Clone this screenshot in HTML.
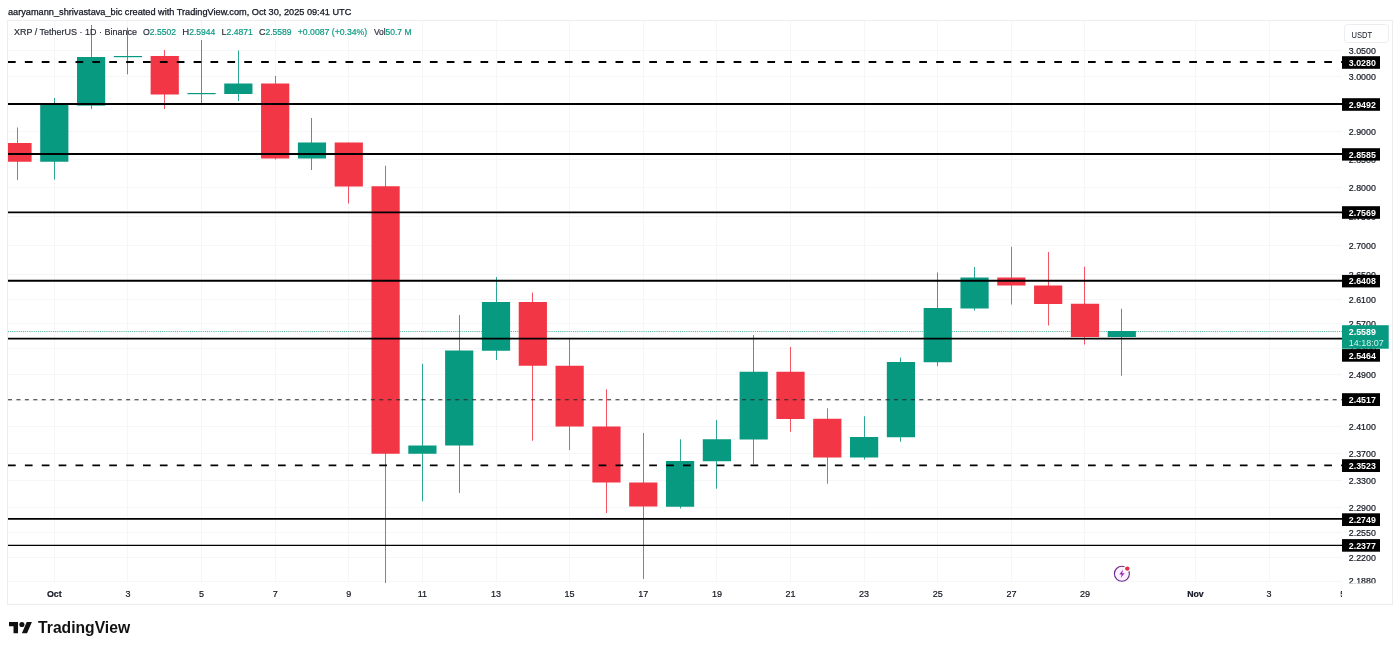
<!DOCTYPE html>
<html><head><meta charset="utf-8"><title>XRP / TetherUS</title>
<style>html,body{margin:0;padding:0;background:#fff}body{width:1400px;height:651px;overflow:hidden}svg{display:block}text{font-family:"Liberation Sans",Arial,sans-serif}</style></head><body>
<svg width="1400" height="651" viewBox="0 0 1400 651">
<rect width="1400" height="651" fill="#fff"/>
<defs><clipPath id="pane"><rect x="8" y="20" width="1334" height="563"/></clipPath><clipPath id="ps"><rect x="1342" y="20" width="50" height="563.3"/></clipPath><clipPath id="ta"><rect x="8" y="582" width="1334" height="22"/></clipPath></defs>
<g stroke="#f5f6f8" stroke-width="1" shape-rendering="crispEdges">
<line x1="54.5" y1="20" x2="54.5" y2="582"/>
<line x1="127.5" y1="20" x2="127.5" y2="582"/>
<line x1="201.5" y1="20" x2="201.5" y2="582"/>
<line x1="275.5" y1="20" x2="275.5" y2="582"/>
<line x1="348.5" y1="20" x2="348.5" y2="582"/>
<line x1="422.5" y1="20" x2="422.5" y2="582"/>
<line x1="496.5" y1="20" x2="496.5" y2="582"/>
<line x1="569.5" y1="20" x2="569.5" y2="582"/>
<line x1="643.5" y1="20" x2="643.5" y2="582"/>
<line x1="716.5" y1="20" x2="716.5" y2="582"/>
<line x1="790.5" y1="20" x2="790.5" y2="582"/>
<line x1="864.5" y1="20" x2="864.5" y2="582"/>
<line x1="937.5" y1="20" x2="937.5" y2="582"/>
<line x1="1011.5" y1="20" x2="1011.5" y2="582"/>
<line x1="1084.5" y1="20" x2="1084.5" y2="582"/>
<line x1="1195.5" y1="20" x2="1195.5" y2="582"/>
<line x1="1269.5" y1="20" x2="1269.5" y2="582"/>
<line x1="8" y1="50.5" x2="1342" y2="50.5"/>
<line x1="8" y1="76.5" x2="1342" y2="76.5"/>
<line x1="8" y1="104.5" x2="1342" y2="104.5"/>
<line x1="8" y1="131.5" x2="1342" y2="131.5"/>
<line x1="8" y1="159.5" x2="1342" y2="159.5"/>
<line x1="8" y1="187.5" x2="1342" y2="187.5"/>
<line x1="8" y1="216.5" x2="1342" y2="216.5"/>
<line x1="8" y1="245.5" x2="1342" y2="245.5"/>
<line x1="8" y1="274.5" x2="1342" y2="274.5"/>
<line x1="8" y1="299.5" x2="1342" y2="299.5"/>
<line x1="8" y1="323.5" x2="1342" y2="323.5"/>
<line x1="8" y1="348.5" x2="1342" y2="348.5"/>
<line x1="8" y1="374.5" x2="1342" y2="374.5"/>
<line x1="8" y1="400.5" x2="1342" y2="400.5"/>
<line x1="8" y1="426.5" x2="1342" y2="426.5"/>
<line x1="8" y1="453.5" x2="1342" y2="453.5"/>
<line x1="8" y1="480.5" x2="1342" y2="480.5"/>
<line x1="8" y1="507.5" x2="1342" y2="507.5"/>
<line x1="8" y1="532.5" x2="1342" y2="532.5"/>
<line x1="8" y1="557.5" x2="1342" y2="557.5"/>
<line x1="8" y1="581.5" x2="1342" y2="581.5"/>
</g>
<line x1="8" y1="331.5" x2="1342" y2="331.5" stroke="#089981" stroke-width="1" stroke-dasharray="1.07 1.07" opacity="0.7"/>
<g clip-path="url(#pane)">
<rect x="17" y="127.5" width="1" height="52.50" fill="#F23645" fill-opacity="0.85"/>
<rect x="3.39" y="143" width="28.2" height="18.75" fill="#F23645"/>
<rect x="54" y="98" width="1" height="81.50" fill="#089981" fill-opacity="0.85"/>
<rect x="40.20" y="103.5" width="28.2" height="58.25" fill="#089981"/>
<rect x="91" y="25" width="1" height="84.00" fill="#089981" fill-opacity="0.85"/>
<rect x="77.01" y="57" width="28.2" height="48.60" fill="#089981"/>
<rect x="127" y="27.7" width="1" height="46.60" fill="#089981" fill-opacity="0.85"/>
<rect x="113.82" y="56" width="28.2" height="1.20" fill="#089981"/>
<rect x="164" y="50" width="1" height="59.00" fill="#F23645" fill-opacity="0.85"/>
<rect x="150.63" y="56" width="28.2" height="38.50" fill="#F23645"/>
<rect x="201" y="40" width="1" height="64.00" fill="#089981" fill-opacity="0.85"/>
<rect x="187.44" y="93" width="28.2" height="1.20" fill="#089981"/>
<rect x="238" y="50.5" width="1" height="50.50" fill="#089981" fill-opacity="0.85"/>
<rect x="224.25" y="83.5" width="28.2" height="10.50" fill="#089981"/>
<rect x="275" y="76" width="1" height="83.50" fill="#F23645" fill-opacity="0.85"/>
<rect x="261.06" y="83.5" width="28.2" height="75.00" fill="#F23645"/>
<rect x="311" y="118" width="1" height="52.00" fill="#089981" fill-opacity="0.85"/>
<rect x="297.87" y="142.5" width="28.2" height="16.00" fill="#089981"/>
<rect x="348" y="142.5" width="1" height="61.00" fill="#F23645" fill-opacity="0.85"/>
<rect x="334.68" y="142.5" width="28.2" height="44.00" fill="#F23645"/>
<rect x="385" y="165.75" width="1" height="417.25" fill="#F23645" fill-opacity="0.85"/>
<rect x="371.49" y="186.25" width="28.2" height="267.50" fill="#F23645"/>
<rect x="422" y="363.75" width="1" height="137.50" fill="#089981" fill-opacity="0.85"/>
<rect x="408.30" y="445.5" width="28.2" height="8.25" fill="#089981"/>
<rect x="459" y="315" width="1" height="178.00" fill="#089981" fill-opacity="0.85"/>
<rect x="445.11" y="350.5" width="28.2" height="95.00" fill="#089981"/>
<rect x="496" y="277" width="1" height="83.00" fill="#089981" fill-opacity="0.85"/>
<rect x="481.92" y="302" width="28.2" height="48.75" fill="#089981"/>
<rect x="532" y="292.5" width="1" height="148.25" fill="#F23645" fill-opacity="0.85"/>
<rect x="518.73" y="302" width="28.2" height="63.75" fill="#F23645"/>
<rect x="569" y="338" width="1" height="112.00" fill="#F23645" fill-opacity="0.85"/>
<rect x="555.54" y="365.75" width="28.2" height="60.75" fill="#F23645"/>
<rect x="606" y="389.25" width="1" height="123.75" fill="#F23645" fill-opacity="0.85"/>
<rect x="592.35" y="426.5" width="28.2" height="56.00" fill="#F23645"/>
<rect x="643" y="433" width="1" height="146.00" fill="#F23645" fill-opacity="0.85"/>
<rect x="629.16" y="482.5" width="28.2" height="24.00" fill="#F23645"/>
<rect x="680" y="439.25" width="1" height="69.25" fill="#089981" fill-opacity="0.85"/>
<rect x="665.97" y="461" width="28.2" height="45.75" fill="#089981"/>
<rect x="716" y="420" width="1" height="68.75" fill="#089981" fill-opacity="0.85"/>
<rect x="702.78" y="439.25" width="28.2" height="22.00" fill="#089981"/>
<rect x="753" y="335" width="1" height="129.25" fill="#089981" fill-opacity="0.85"/>
<rect x="739.59" y="371.75" width="28.2" height="67.75" fill="#089981"/>
<rect x="790" y="347" width="1" height="84.75" fill="#F23645" fill-opacity="0.85"/>
<rect x="776.40" y="371.75" width="28.2" height="47.25" fill="#F23645"/>
<rect x="827" y="408.25" width="1" height="75.50" fill="#F23645" fill-opacity="0.85"/>
<rect x="813.21" y="418.75" width="28.2" height="38.75" fill="#F23645"/>
<rect x="864" y="416.25" width="1" height="43.25" fill="#089981" fill-opacity="0.85"/>
<rect x="850.02" y="437" width="28.2" height="20.50" fill="#089981"/>
<rect x="900" y="357.5" width="1" height="84.25" fill="#089981" fill-opacity="0.85"/>
<rect x="886.83" y="362" width="28.2" height="75.25" fill="#089981"/>
<rect x="937" y="272.5" width="1" height="93.75" fill="#089981" fill-opacity="0.85"/>
<rect x="923.64" y="308" width="28.2" height="54.25" fill="#089981"/>
<rect x="974" y="267" width="1" height="43.50" fill="#089981" fill-opacity="0.85"/>
<rect x="960.45" y="277.5" width="28.2" height="31.00" fill="#089981"/>
<rect x="1011" y="246.75" width="1" height="57.75" fill="#F23645" fill-opacity="0.85"/>
<rect x="997.26" y="277.5" width="28.2" height="8.00" fill="#F23645"/>
<rect x="1048" y="252" width="1" height="73.50" fill="#F23645" fill-opacity="0.85"/>
<rect x="1034.07" y="285.5" width="28.2" height="18.50" fill="#F23645"/>
<rect x="1084" y="266.75" width="1" height="77.75" fill="#F23645" fill-opacity="0.85"/>
<rect x="1070.88" y="303.75" width="28.2" height="33.25" fill="#F23645"/>
<rect x="1121" y="308.75" width="1" height="67.00" fill="#089981" fill-opacity="0.85"/>
<rect x="1107.69" y="331" width="28.2" height="6.00" fill="#089981"/>
</g>
<line x1="8" y1="62" x2="1342" y2="62" stroke="#000" stroke-width="1.9" stroke-dasharray="7.7 9.175" stroke-dashoffset="0"/>
<line x1="8" y1="104" x2="1342" y2="104" stroke="#000" stroke-width="1.9"/>
<line x1="8" y1="154" x2="1342" y2="154" stroke="#000" stroke-width="1.9"/>
<line x1="8" y1="212.4" x2="1342" y2="212.4" stroke="#000" stroke-width="1.9"/>
<line x1="8" y1="280.7" x2="1342" y2="280.7" stroke="#000" stroke-width="1.9"/>
<line x1="8" y1="338.6" x2="1342" y2="338.6" stroke="#000" stroke-width="1.9"/>
<line x1="8" y1="399.7" x2="1342" y2="399.7" stroke="#2a2a2a" stroke-width="1.1" stroke-dasharray="4 4.4375" stroke-dashoffset="0"/>
<line x1="8" y1="465.4" x2="1342" y2="465.4" stroke="#000" stroke-width="1.9" stroke-dasharray="7.7 9.175" stroke-dashoffset="0"/>
<line x1="8" y1="518.9" x2="1342" y2="518.9" stroke="#000" stroke-width="1.9"/>
<line x1="8" y1="545.4" x2="1342" y2="545.4" stroke="#000" stroke-width="1.1"/>
<g fill="none" stroke="#ecedf1" stroke-width="1" shape-rendering="crispEdges"><rect x="7.5" y="20.5" width="1385" height="584"/></g>
<text x="8" y="14.5" font-size="8.4" fill="#131722" stroke="#131722" stroke-width="0.25" textLength="343.3" lengthAdjust="spacingAndGlyphs">aaryamann_shrivastava_bic created with TradingView.com, Oct 30, 2025 09:41 UTC</text>
<text x="13.9" y="35.2" font-size="9.3" fill="#2a2e39" stroke="#2a2e39" stroke-width="0.2" textLength="123.1" lengthAdjust="spacingAndGlyphs">XRP / TetherUS · 1D · Binance</text>
<text x="143" y="35.2" font-size="9.3" fill="#2a2e39" stroke="#2a2e39" stroke-width="0.2" textLength="6.8" lengthAdjust="spacingAndGlyphs">O</text>
<text x="149.8" y="35.2" font-size="9.3" fill="#089981" stroke="#089981" stroke-width="0.2" textLength="26.2" lengthAdjust="spacingAndGlyphs">2.5502</text>
<text x="182.3" y="35.2" font-size="9.3" fill="#2a2e39" stroke="#2a2e39" stroke-width="0.2" textLength="6.9" lengthAdjust="spacingAndGlyphs">H</text>
<text x="189.2" y="35.2" font-size="9.3" fill="#089981" stroke="#089981" stroke-width="0.2" textLength="26.2" lengthAdjust="spacingAndGlyphs">2.5944</text>
<text x="221.5" y="35.2" font-size="9.3" fill="#2a2e39" stroke="#2a2e39" stroke-width="0.2" textLength="5.0" lengthAdjust="spacingAndGlyphs">L</text>
<text x="226.5" y="35.2" font-size="9.3" fill="#089981" stroke="#089981" stroke-width="0.2" textLength="26.2" lengthAdjust="spacingAndGlyphs">2.4871</text>
<text x="258.9" y="35.2" font-size="9.3" fill="#2a2e39" stroke="#2a2e39" stroke-width="0.2" textLength="6.5" lengthAdjust="spacingAndGlyphs">C</text>
<text x="265.4" y="35.2" font-size="9.3" fill="#089981" stroke="#089981" stroke-width="0.2" textLength="26.2" lengthAdjust="spacingAndGlyphs">2.5589</text>
<text x="297.8" y="35.2" font-size="9.3" fill="#089981" stroke="#089981" stroke-width="0.2" textLength="69.4" lengthAdjust="spacingAndGlyphs">+0.0087 (+0.34%)</text>
<text x="373.9" y="35.2" font-size="9.3" fill="#2a2e39" stroke="#2a2e39" stroke-width="0.2" textLength="11.7" lengthAdjust="spacingAndGlyphs">Vol</text>
<text x="385.6" y="35.2" font-size="9.3" fill="#089981" stroke="#089981" stroke-width="0.2" textLength="25.9" lengthAdjust="spacingAndGlyphs">50.7 M</text>
<g clip-path="url(#ps)" font-size="9" fill="#131722" stroke="#131722" stroke-width="0.2">
<text x="1348.8" y="54.3" textLength="27" lengthAdjust="spacingAndGlyphs">3.0500</text>
<text x="1348.8" y="80.4" textLength="27" lengthAdjust="spacingAndGlyphs">3.0000</text>
<text x="1348.8" y="107.8" textLength="27" lengthAdjust="spacingAndGlyphs">2.9500</text>
<text x="1348.8" y="134.9" textLength="27" lengthAdjust="spacingAndGlyphs">2.9000</text>
<text x="1348.8" y="162.8" textLength="27" lengthAdjust="spacingAndGlyphs">2.8500</text>
<text x="1348.8" y="190.9" textLength="27" lengthAdjust="spacingAndGlyphs">2.8000</text>
<text x="1348.8" y="219.6" textLength="27" lengthAdjust="spacingAndGlyphs">2.7500</text>
<text x="1348.8" y="249.0" textLength="27" lengthAdjust="spacingAndGlyphs">2.7000</text>
<text x="1348.8" y="277.9" textLength="27" lengthAdjust="spacingAndGlyphs">2.6500</text>
<text x="1348.8" y="302.8" textLength="27" lengthAdjust="spacingAndGlyphs">2.6100</text>
<text x="1348.8" y="326.6" textLength="27" lengthAdjust="spacingAndGlyphs">2.5700</text>
<text x="1348.8" y="352.3" textLength="27" lengthAdjust="spacingAndGlyphs">2.5300</text>
<text x="1348.8" y="378.0" textLength="27" lengthAdjust="spacingAndGlyphs">2.4900</text>
<text x="1348.8" y="403.8" textLength="27" lengthAdjust="spacingAndGlyphs">2.4500</text>
<text x="1348.8" y="429.9" textLength="27" lengthAdjust="spacingAndGlyphs">2.4100</text>
<text x="1348.8" y="456.7" textLength="27" lengthAdjust="spacingAndGlyphs">2.3700</text>
<text x="1348.8" y="483.9" textLength="27" lengthAdjust="spacingAndGlyphs">2.3300</text>
<text x="1348.8" y="511.2" textLength="27" lengthAdjust="spacingAndGlyphs">2.2900</text>
<text x="1348.8" y="535.9" textLength="27" lengthAdjust="spacingAndGlyphs">2.2550</text>
<text x="1348.8" y="561.1" textLength="27" lengthAdjust="spacingAndGlyphs">2.2200</text>
<text x="1348.8" y="583.8" textLength="27" lengthAdjust="spacingAndGlyphs">2.1880</text>
</g>
<rect x="1344.5" y="24.5" width="44" height="18" rx="3" fill="#fff" stroke="#ecedf1"/>
<text x="1351.6" y="37.7" font-size="9.7" fill="#131722" textLength="20.6" lengthAdjust="spacingAndGlyphs">USDT</text>
<rect x="1342" y="56.2" width="38" height="12.6" fill="#000"/>
<text x="1348.8" y="65.8" font-size="9" font-weight="bold" fill="#fff" textLength="27" lengthAdjust="spacingAndGlyphs">3.0280</text>
<rect x="1342" y="98.2" width="38" height="12.6" fill="#000"/>
<text x="1348.8" y="107.8" font-size="9" font-weight="bold" fill="#fff" textLength="27" lengthAdjust="spacingAndGlyphs">2.9492</text>
<rect x="1342" y="148.2" width="38" height="12.4" fill="#000"/>
<text x="1348.8" y="157.7" font-size="9" font-weight="bold" fill="#fff" textLength="27" lengthAdjust="spacingAndGlyphs">2.8585</text>
<rect x="1342" y="206.2" width="38" height="12.6" fill="#000"/>
<text x="1348.8" y="215.8" font-size="9" font-weight="bold" fill="#fff" textLength="27" lengthAdjust="spacingAndGlyphs">2.7569</text>
<rect x="1342" y="274.9" width="38" height="12.5" fill="#000"/>
<text x="1348.8" y="284.4" font-size="9" font-weight="bold" fill="#fff" textLength="27" lengthAdjust="spacingAndGlyphs">2.6408</text>
<rect x="1342" y="349.1" width="38" height="12.6" fill="#000"/>
<text x="1348.8" y="358.7" font-size="9" font-weight="bold" fill="#fff" textLength="27" lengthAdjust="spacingAndGlyphs">2.5464</text>
<rect x="1342" y="393.2" width="38" height="12.8" fill="#000"/>
<text x="1348.8" y="402.9" font-size="9" font-weight="bold" fill="#fff" textLength="27" lengthAdjust="spacingAndGlyphs">2.4517</text>
<rect x="1342" y="459.2" width="38" height="12.8" fill="#000"/>
<text x="1348.8" y="468.9" font-size="9" font-weight="bold" fill="#fff" textLength="27" lengthAdjust="spacingAndGlyphs">2.3523</text>
<rect x="1342" y="513.3" width="38" height="12.7" fill="#000"/>
<text x="1348.8" y="522.9" font-size="9" font-weight="bold" fill="#fff" textLength="27" lengthAdjust="spacingAndGlyphs">2.2749</text>
<rect x="1342" y="539.1" width="38" height="12.6" fill="#000"/>
<text x="1348.8" y="548.7" font-size="9" font-weight="bold" fill="#fff" textLength="27" lengthAdjust="spacingAndGlyphs">2.2377</text>
<rect x="1342" y="325.2" width="46.7" height="23.5" fill="#089981"/>
<text x="1348.8" y="334.8" font-size="9" font-weight="bold" fill="#fff" textLength="27" lengthAdjust="spacingAndGlyphs">2.5589</text>
<text x="1348.8" y="346.1" font-size="9" fill="#d6f0ea" textLength="35" lengthAdjust="spacingAndGlyphs">14:18:07</text>
<g clip-path="url(#ta)" font-size="9" fill="#131722" stroke="#131722" stroke-width="0.2" text-anchor="middle">
<text x="127.9" y="597.2">3</text>
<text x="201.5" y="597.2">5</text>
<text x="275.2" y="597.2">7</text>
<text x="348.8" y="597.2">9</text>
<text x="422.4" y="597.2">11</text>
<text x="496.0" y="597.2">13</text>
<text x="569.6" y="597.2">15</text>
<text x="643.3" y="597.2">17</text>
<text x="716.9" y="597.2">19</text>
<text x="790.5" y="597.2">21</text>
<text x="864.1" y="597.2">23</text>
<text x="937.7" y="597.2">25</text>
<text x="1011.4" y="597.2">27</text>
<text x="1085.0" y="597.2">29</text>
<text x="1269.0" y="597.2">3</text>
<text x="1342.7" y="597.2">5</text>
<text x="54.3" y="597.2" font-weight="bold" textLength="14.8" lengthAdjust="spacingAndGlyphs">Oct</text>
<text x="1195.4" y="597.2" font-weight="bold" textLength="16.5" lengthAdjust="spacingAndGlyphs">Nov</text>
</g>
<g transform="translate(1121.9 573.8)"><circle r="7.5" fill="#fbf0ff" stroke="#6a2c8c" stroke-width="1.1"/><path d="M1.2 -4.2 L-2.6 0.6 L-0.2 0.6 L-1.2 4.2 L2.6 -0.6 L0.2 -0.6 Z" fill="#9c27b0"/><circle cx="5.4" cy="-5.2" r="3.3" fill="#fff"/><circle cx="5.4" cy="-5.2" r="2.2" fill="#e0344b"/></g>
<g transform="translate(9 619.4) scale(0.645 0.634)" fill="#111"><path d="M14 22H7V11H0V4h14v18zM28 22h-8l7.5-18h8L28 22z"/><circle cx="20" cy="8" r="4"/></g>
<text x="38.1" y="632.9" font-size="15.8" font-weight="bold" fill="#111" textLength="92" lengthAdjust="spacingAndGlyphs">TradingView</text>
</svg></body></html>
